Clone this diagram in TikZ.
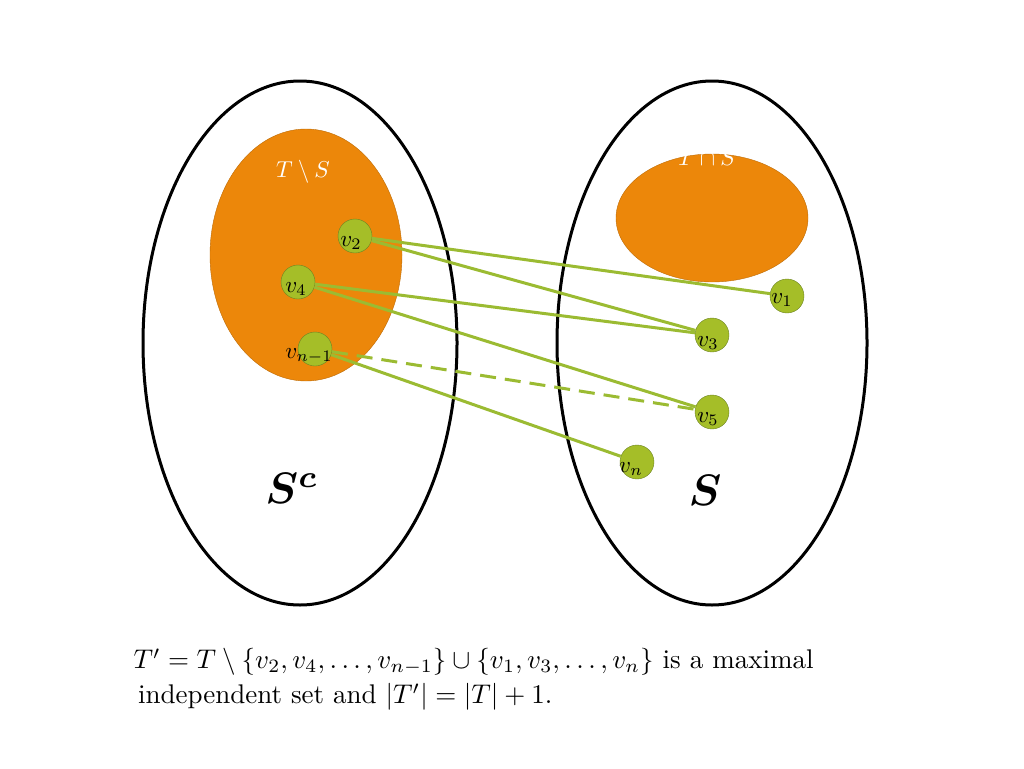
\documentclass[tikz,border=0pt]{standalone}
\usepackage{amsmath}
\usepackage{amssymb}
\usepackage{bm}
\definecolor{setorange}{RGB}{236,135,10}
\definecolor{vgreen}{RGB}{165,190,40}
\definecolor{egreen}{RGB}{155,187,50}
\begin{document}
\begin{tikzpicture}[x=1pt,y=-1pt]
\tikzset{vert/.style={circle,draw=egreen!70!black,fill=vgreen,minimum size=34pt,inner sep=0pt},
  lab/.style={scale=2.3},
  edge/.style={egreen,line width=3pt}}
\useasboundingbox (0,0) rectangle (1024,768);

% the two sets
\draw[line width=3pt] (300,343) ellipse [x radius=157,y radius=262];
\draw[line width=3pt] (712,343) ellipse [x radius=155,y radius=262];
\draw[fill=setorange,draw=setorange!80!black] (306,255) ellipse [x radius=96,y radius=126];
\draw[fill=setorange,draw=setorange!80!black] (712,218) ellipse [x radius=96,y radius=64];
\node[lab,white] (tms) at (303,172) {$T\setminus S$};
\node[lab,white] (tcs) at (707,158) {$T\cap S$};

% vertices
\node[vert] (v2) at (355,236) {};
\node[vert] (v4) at (298,282) {};
\node[vert] (vm) at (315,349) {};
\node[vert] (v1) at (787,296) {};
\node[vert] (v3) at (712,335) {};
\node[vert] (v5) at (712,412) {};
\node[vert] (vn) at (637,462) {};

% edges
\draw[edge] (v2) -- (v1);
\draw[edge] (v2) -- (v3);
\draw[edge] (v4) -- (v3);
\draw[edge] (v4) -- (v5);
\draw[edge] (vm) -- (vn);
\draw[edge,dash pattern=on 16pt off 9pt] (vm) -- (v5);

% labels
\node[lab] (l2) at (351,243) {$v_2$};
\node[lab] (l4) at (296,289) {$v_4$};
\node[lab] (lm) at (309,356) {$v_{n-1}$};
\node[lab] (l1) at (782,300) {$v_1$};
\node[lab] (l3) at (708,343) {$v_3$};
\node[lab] (l5) at (708,419) {$v_5$};
\node[lab] (ln) at (631,469) {$v_n$};
\node[scale=4.4] (sc) at (292,488) {$\bm{S^c}$};
\node[scale=4.4] (s) at (705,490) {$\bm{S}$};

% caption
\node[scale=2.7,align=left,anchor=north west,inner sep=0pt] (cap) at (133,648)
  {$T'=T\setminus\{v_2,v_4,\dots,v_{n-1}\}\cup\{v_1,v_3,\dots,v_n\}$ is a maximal\\[1pt]
   \,independent set and $|T'|=|T|+1$.};
\end{tikzpicture}
\end{document}
